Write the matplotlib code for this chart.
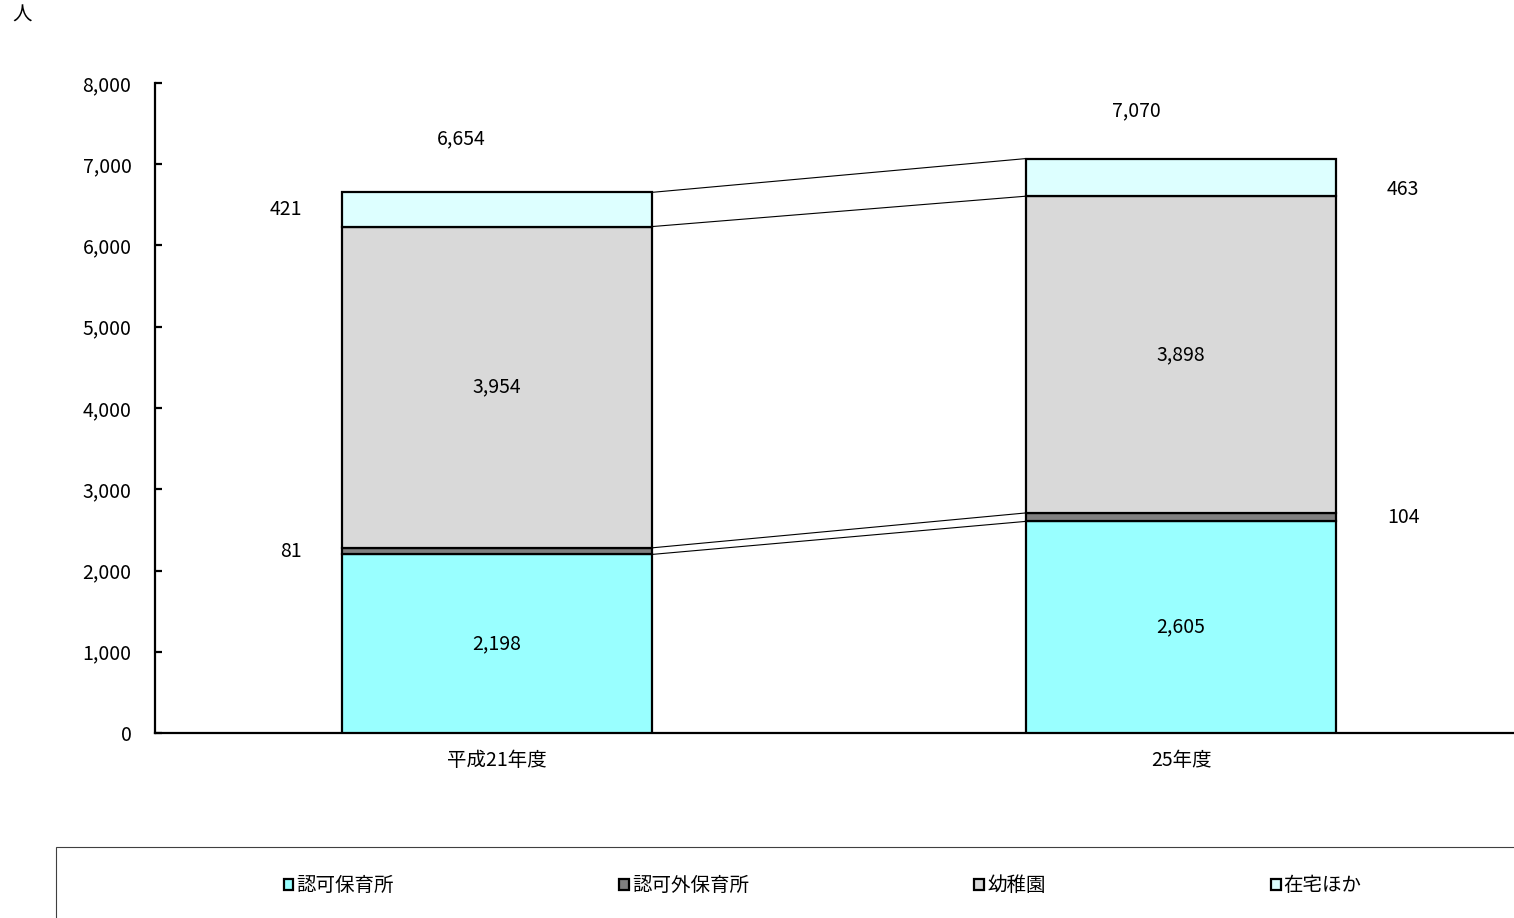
import matplotlib
matplotlib.use('Agg')
import matplotlib.pyplot as plt
from matplotlib.patches import Rectangle
import numpy as np

plt.rcParams['font.family'] = ['Noto Sans CJK JP', 'DejaVu Sans']

# dane
years = ['平成21年度', '25年度']
series_names = ['認可保育所', '認可外保育所', '幼稚園', '在宅ほか']
ninka = [2198, 2605]
ninkagai = [81, 104]
youchien = [3954, 3898]
zaitaku = [421, 463]
totals = [6654, 7070]

colors = ['#99FFFF', '#808080', '#D9D9D9', '#DDFFFF']
values = [ninka, ninkagai, youchien, zaitaku]

fig = plt.figure(figsize=(15.14, 9.18), dpi=100)
ax = fig.add_axes([0.1024, 0.2015, 0.9036, 0.7081])

x = np.arange(len(years))
width = 0.453
bottom = np.zeros(len(years))
tops = []
for name, vals, col in zip(series_names, values, colors):
    vals = np.array(vals)
    ax.bar(x, vals, width, bottom=bottom, color=col, edgecolor='black',
           linewidth=1.6, label=name, zorder=3)
    bottom = bottom + vals
    tops.append(bottom.copy())

# linie serii
for t in tops:
    ax.plot([x[0] + width / 2, x[1] - width / 2], [t[0], t[1]],
            color='black', linewidth=0.8, zorder=2)

fs = 14
# etykiety wewnątrz słupków
for i in range(len(years)):
    ax.text(x[i], ninka[i] / 2, f'{ninka[i]:,}', ha='center', va='center', fontsize=fs, zorder=4)
    y0 = ninka[i] + ninkagai[i]
    ax.text(x[i], y0 + youchien[i] / 2, f'{youchien[i]:,}', ha='center', va='center', fontsize=fs, zorder=4)

# etykiety obok słupków
side = [(-195, 'right'), (206, 'left')]
for i in range(len(years)):
    dx, ha = side[i]
    y_small = ninka[i] + ninkagai[i] / 2
    y_top = ninka[i] + ninkagai[i] + youchien[i] + zaitaku[i] / 2
    dy_top = 0 if i == 0 else -12
    ax.annotate(f'{ninkagai[i]:,}', (x[i], y_small), xytext=(dx, 0),
                textcoords='offset pixels', ha=ha, va='center', fontsize=fs)
    ax.annotate(f'{zaitaku[i]:,}', (x[i], y_top), xytext=(dx, dy_top),
                textcoords='offset pixels', ha=ha, va='center', fontsize=fs)

# sumy
tot_off = [(-36, 54), (-45, 48)]
for i in range(len(years)):
    ax.annotate(f'{totals[i]:,}', (x[i], totals[i]), xytext=tot_off[i],
                textcoords='offset pixels', ha='center', va='center', fontsize=fs)

ax.set_xlim(-0.5, 1.5)
ax.set_ylim(0, 8000)
ax.set_yticks(np.arange(0, 8001, 1000))
ax.yaxis.set_major_formatter(matplotlib.ticker.FuncFormatter(lambda v, p: f'{int(v):,}'))
ax.set_xticks(x)
ax.set_xticklabels(years)
ax.tick_params(axis='y', direction='in', length=5, width=1.6, pad=17, labelsize=fs)
ax.tick_params(axis='x', length=0, pad=12, labelsize=fs)
for s in ['top', 'right']:
    ax.spines[s].set_visible(False)
for s in ['left', 'bottom']:
    ax.spines[s].set_linewidth(1.6)

fig.text(0.0145, 0.983, '人', fontsize=fs, ha='center', va='center')

# legenda
fig.patches.append(Rectangle((56 / 1514, -0.05), 1.0, 71 / 918 + 0.05,
                             transform=fig.transFigure, fill=False,
                             edgecolor='#404040', linewidth=0.8, clip_on=False))
handles, labels = ax.get_legend_handles_labels()
leg = fig.legend(handles, labels, loc='center left', bbox_to_anchor=(0.1757, 0.035),
                 ncol=4, frameon=False, fontsize=fs, handlelength=0.5, handleheight=0.5,
                 handletextpad=0.15, columnspacing=11.6)

fig.savefig('out.png', dpi=100)
